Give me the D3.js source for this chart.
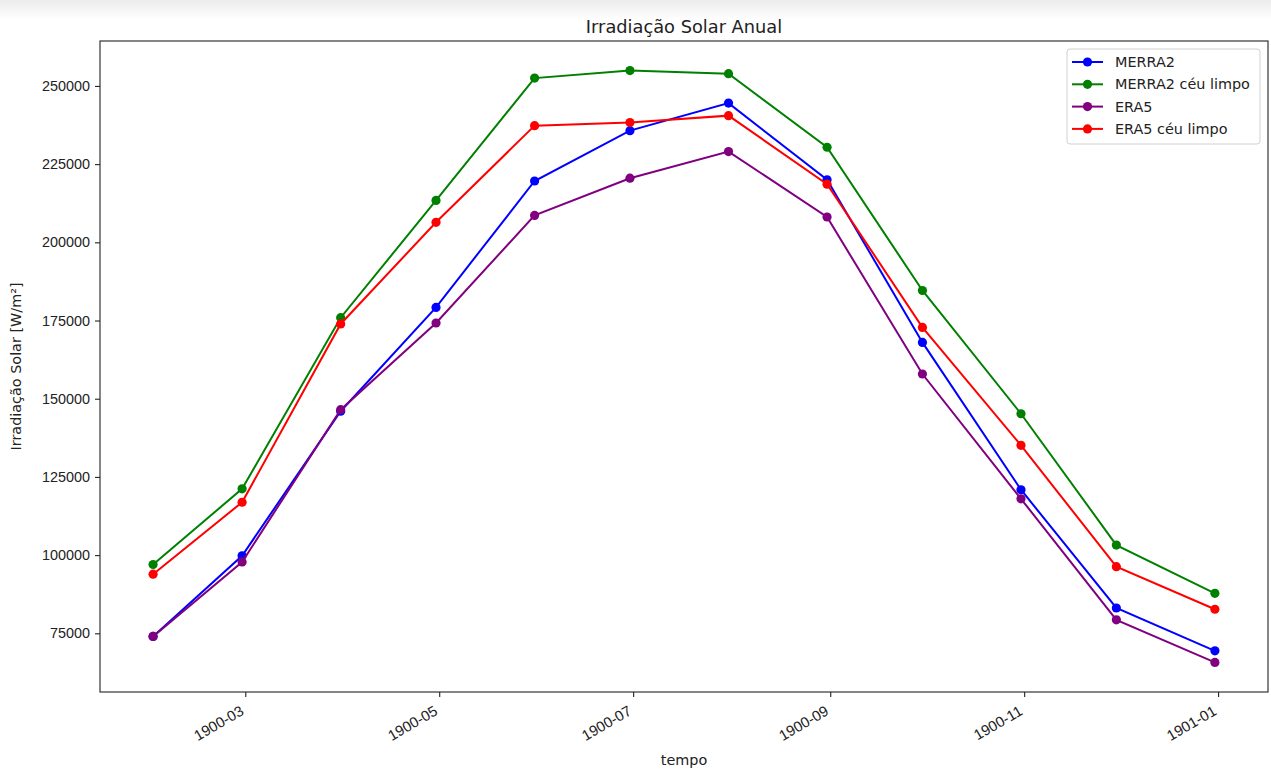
<!DOCTYPE html>
<html>
<head>
<meta charset="utf-8">
<script src="https://cdn.jsdelivr.net/npm/d3@7"></script>
<style>
  html, body { margin: 0; padding: 0; background: #fff; }
  svg { display: block; font-family: "DejaVu Sans", sans-serif; }
</style>
</head>
<body>
<svg id="chart" width="1271" height="769"></svg>
<script>
// Monthly totals (month-end dates), W/m²
const months = ["1900-01-31","1900-02-28","1900-03-31","1900-04-30","1900-05-31","1900-06-30",
                "1900-07-31","1900-08-31","1900-09-30","1900-10-31","1900-11-30","1900-12-31"];
const merra2      = [74000, 99800, 146000, 179200, 219600, 235700, 244500, 220000, 168000, 120900, 83100, 69400];
const merra2Clear = [97000, 121200, 175900, 213400, 252500, 254900, 253900, 230400, 184600, 145200, 103200, 87800];
const era5        = [74000, 97800, 146500, 174200, 208600, 220500, 229000, 208100, 157900, 118000, 79300, 65700];
const era5Clear   = [93900, 116900, 173900, 206400, 237300, 238300, 240500, 218600, 172800, 135100, 96300, 82700];
const seriesNames  = ["MERRA2", "MERRA2 céu limpo", "ERA5", "ERA5 céu limpo"];
const seriesColors = ["blue", "green", "purple", "red"];
const yTicks = [75000, 100000, 125000, 150000, 175000, 200000, 225000, 250000];
const xTickDates = ["1900-03-01","1900-05-01","1900-07-01","1900-09-01","1900-11-01","1901-01-01"];

const series = [merra2, merra2Clear, era5, era5Clear].map((vals, i) => ({
  name: seriesNames[i], color: seriesColors[i],
  points: vals.map((v, j) => ({ date: new Date(months[j] + "T00:00:00Z"), value: v }))
}));

const svg = d3.select("#chart");
const W = 1271, H = 769;
const plot = { left: 100, right: 1268, top: 41, bottom: 692 };

// soft band across the very top
const defs = svg.append("defs");
const grad = defs.append("linearGradient").attr("id", "topband").attr("x1", 0).attr("x2", 0).attr("y1", 0).attr("y2", 1);
grad.append("stop").attr("offset", "0%").attr("stop-color", "#ececec");
grad.append("stop").attr("offset", "100%").attr("stop-color", "#ffffff");
svg.append("rect").attr("x", 0).attr("y", 0).attr("width", W).attr("height", 20).attr("fill", "url(#topband)");

// 5% padding around the data range on both axes
const allDates = series[0].points.map(d => d.date);
const t0 = d3.min(allDates), t1 = d3.max(allDates);
const tpad = (t1 - t0) * 0.05;
const x = d3.scaleUtc()
  .domain([new Date(+t0 - tpad), new Date(+t1 + tpad)])
  .range([plot.left, plot.right]);

const allVals = series.flatMap(s => s.points.map(p => p.value));
const vmin = d3.min(allVals), vmax = d3.max(allVals);
const vpad = (vmax - vmin) * 0.05;
const y = d3.scaleLinear()
  .domain([vmin - vpad, vmax + vpad])
  .range([plot.bottom, plot.top]);

const tickFont = 14.4;

// x axis
const xAxis = d3.axisBottom(x)
  .tickValues(xTickDates.map(s => new Date(s + "T00:00:00Z")))
  .tickFormat(d3.utcFormat("%Y-%m"))
  .tickSizeInner(5).tickSizeOuter(0);
const gx = svg.append("g").attr("transform", `translate(0,${plot.bottom})`).call(xAxis);
gx.select(".domain").remove();
gx.selectAll(".tick line").attr("stroke", "#222").attr("stroke-width", 1.1);
gx.selectAll(".tick text")
  .attr("font-size", 14.8).attr("fill", "#222")
  .attr("text-anchor", "end")
  .attr("dy", null).attr("y", null)
  .attr("transform", "translate(-1,22) rotate(-30)");

// y axis
const yAxis = d3.axisLeft(y)
  .tickValues(yTicks)
  .tickFormat(d3.format("d"))
  .tickSizeInner(5).tickSizeOuter(0).tickPadding(5);
const gy = svg.append("g").attr("transform", `translate(${plot.left},0)`).call(yAxis);
gy.select(".domain").remove();
gy.selectAll(".tick line").attr("stroke", "#222").attr("stroke-width", 1.1);
gy.selectAll(".tick text").attr("font-size", tickFont).attr("fill", "#222");

// series lines and markers
const line = d3.line().x(d => x(d.date)).y(d => y(d.value));
series.forEach(s => {
  const g = svg.append("g");
  g.append("path").datum(s.points)
    .attr("d", line).attr("fill", "none")
    .attr("stroke", s.color).attr("stroke-width", 2);
  g.selectAll("circle").data(s.points).join("circle")
    .attr("cx", d => x(d.date)).attr("cy", d => y(d.value))
    .attr("r", 4.6).attr("fill", s.color);
});

// frame
svg.append("rect")
  .attr("x", plot.left).attr("y", plot.top)
  .attr("width", plot.right - plot.left).attr("height", plot.bottom - plot.top)
  .attr("fill", "none").attr("stroke", "#222").attr("stroke-width", 1.1);

// title and axis labels
svg.append("text").attr("x", (plot.left + plot.right) / 2).attr("y", 33)
  .attr("text-anchor", "middle").attr("font-size", 17.8).attr("fill", "#222")
  .text("Irradiação Solar Anual");
svg.append("text").attr("x", (plot.left + plot.right) / 2).attr("y", 765)
  .attr("text-anchor", "middle").attr("font-size", tickFont).attr("fill", "#222")
  .text("tempo");
svg.append("text")
  .attr("transform", `translate(21,${(plot.top + plot.bottom) / 2}) rotate(-90)`)
  .attr("text-anchor", "middle").attr("font-size", tickFont).attr("fill", "#222")
  .text("Irradiação Solar [W/m²]");

// legend
const lg = svg.append("g");
lg.append("rect").attr("x", 1067).attr("y", 49).attr("width", 193).attr("height", 95)
  .attr("rx", 3).attr("fill", "#fff").attr("fill-opacity", 0.8)
  .attr("stroke", "#d0d0d0").attr("stroke-width", 1);
series.forEach((s, i) => {
  const ly = 62 + i * 22.3;
  lg.append("line").attr("x1", 1072).attr("x2", 1103).attr("y1", ly).attr("y2", ly)
    .attr("stroke", s.color).attr("stroke-width", 2);
  lg.append("circle").attr("cx", 1087.5).attr("cy", ly).attr("r", 4.6).attr("fill", s.color);
  lg.append("text").attr("x", 1115).attr("y", ly + 5).attr("font-size", tickFont).attr("fill", "#222")
    .text(s.name);
});
</script>
</body>
</html>
